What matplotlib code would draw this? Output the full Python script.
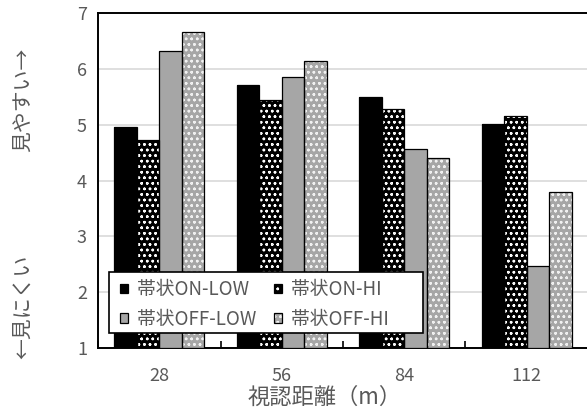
import matplotlib
matplotlib.use("Agg")
import matplotlib.pyplot as plt
from matplotlib.patches import Patch, Rectangle
import numpy as np

plt.rcParams["font.family"] = ["Noto Sans CJK JP", "DejaVu Sans"]
plt.rcParams["hatch.linewidth"] = 0.35

# 視認距離ごとの評価値
distances = ["28", "56", "84", "112"]
series_names = ["帯状ON-LOW", "帯状ON-HI", "帯状OFF-LOW", "帯状OFF-HI"]
on_low = [4.95, 5.71, 5.50, 5.01]
on_hi = [4.72, 5.44, 5.28, 5.16]
off_low = [6.32, 5.86, 4.57, 2.46]
off_hi = [6.66, 6.14, 4.41, 3.79]

TEXT = "#595959"
W, H = 587, 409

fig = plt.figure(figsize=(W / 100, H / 100), dpi=100)
ax = fig.add_axes([98 / W, 61 / H, 490 / W, 335 / H])

x = np.arange(len(distances))
w = 0.184
DOTS = "ooo..."
# (塗り色, ハッチ, ハッチ色)
styles = [
    ("black", None, "black"),
    ("black", DOTS, "white"),
    ("#a6a6a6", None, "#a6a6a6"),
    ("#a6a6a6", DOTS, "#f2f2f2"),
]
handles = {}
for i, (vals, name, st) in enumerate(zip([on_low, on_hi, off_low, off_hi], series_names, styles)):
    face, hatch, hcol = st
    pos = x + (i - 1.5) * w
    h = np.array(vals) - 1
    # ハッチ色は edgecolor から取られるので、塗りと枠を分けて描く
    ax.bar(pos, h, bottom=1, width=w, facecolor=face, edgecolor=hcol,
           linewidth=0, hatch=hatch, zorder=3)
    ax.bar(pos, h, bottom=1, width=w, fill=False, edgecolor="black",
           linewidth=0.9, zorder=4)
    handles[name] = (Patch(facecolor=face, edgecolor=hcol, linewidth=0, hatch=hatch),
                     Patch(fill=False, edgecolor="black", linewidth=0.9))

ax.set_ylim(1, 7)
ax.set_xlim(-0.5, 3.5)
ax.set_yticks(range(1, 8))
ax.set_xticks(x)
ax.set_xticklabels(distances)
ax.set_xticks(np.arange(-0.5, 4.0, 1.0), minor=True)
ax.tick_params(axis="x", which="major", length=0, colors=TEXT, labelsize=13, pad=14)
ax.tick_params(axis="x", which="minor", direction="in", length=5, width=1.2, color="black")
ax.tick_params(axis="y", length=0, colors=TEXT, labelsize=13, pad=8)
ax.yaxis.grid(True, color="#d9d9d9", linewidth=1.2, zorder=0)
ax.set_axisbelow(True)
for s in ax.spines.values():
    s.set_linewidth(1.4)
    s.set_color("black")
ax.spines["right"].set_visible(False)

fig.text(325 / W, 1 - 397 / H, "視認距離（m）", ha="center", va="center",
         color=TEXT, fontsize=16)
fig.text(23 / W, 1 - 307 / H, "←見にくい", rotation=90, ha="center", va="center",
         color=TEXT, fontsize=15)
fig.text(23 / W, 1 - 100 / H, "見やすい→", rotation=90, ha="center", va="center",
         color=TEXT, fontsize=15)

# 凡例の枠
ax.add_patch(Rectangle(((109 - 98) / 490, (348 - 333) / 335), 314 / 490, 61 / 335,
                       transform=ax.transAxes, facecolor="white", edgecolor="black",
                       linewidth=1.2, zorder=5))
order = ["帯状ON-LOW", "帯状OFF-LOW", "帯状ON-HI", "帯状OFF-HI"]
leg = ax.legend([handles[n] for n in order], order, ncol=2, loc="center left",
                bbox_to_anchor=((120 - 98) / 490, (348 - 304.5) / 335),
                frameon=False, fontsize=13.5, borderpad=0, borderaxespad=0,
                handlelength=0.42, handleheight=0.42, handletextpad=0.48,
                columnspacing=0.95, labelspacing=0.45, labelcolor=TEXT)
leg.set_zorder(6)

fig.savefig("out.png", dpi=100)
